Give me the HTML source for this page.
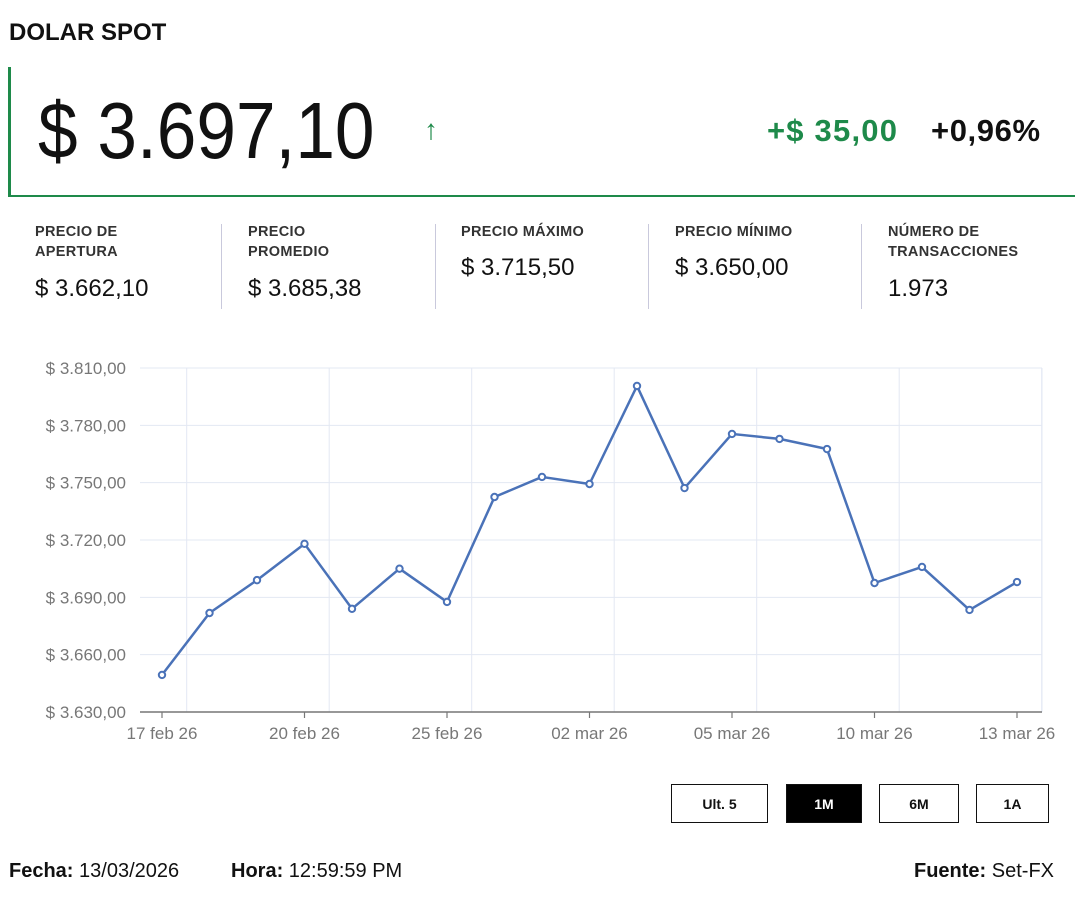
<!DOCTYPE html>
<html><head><meta charset="utf-8"><style>
body{margin:0;width:1080px;height:900px;background:#fff;font-family:"Liberation Sans",sans-serif;color:#111;position:relative;overflow:hidden}
.a{position:absolute;white-space:nowrap}
.lbl{font-size:14.5px;font-weight:bold;color:#333;line-height:20px;letter-spacing:0.3px}
.val{font-size:24px;color:#111}
.div{position:absolute;top:224px;width:1px;height:85px;background:#c9c9dc}
.btn{position:absolute;top:784px;height:39px;border:1.5px solid #111;box-sizing:border-box;font-size:14px;font-weight:bold;display:flex;align-items:center;justify-content:center}
</style></head><body>
<div class="a" style="left:9px;top:19px;font-size:24px;font-weight:bold">DOLAR SPOT</div>
<div class="a" style="left:8px;top:67px;width:3px;height:130px;background:#1e8a4a"></div>
<div class="a" style="left:8px;top:195px;width:1067px;height:2px;background:#1e8a4a"></div>
<div class="a" style="left:38px;top:86px;font-size:80px;line-height:90px;transform:scaleX(0.89);transform-origin:left top">$ 3.697,10</div>
<div class="a" style="left:424px;top:114px;font-size:28px;color:#1e8a4a;font-weight:bold">↑</div>
<div class="a" style="left:767px;top:113px;font-size:31px;font-weight:bold;color:#1e8a4a;letter-spacing:1.2px">+$ 35,00</div>
<div class="a" style="left:931px;top:113px;font-size:31px;font-weight:bold;color:#111;letter-spacing:0.6px">+0,96%</div>

<div class="a lbl" style="left:35px;top:222px">PRECIO DE<br>APERTURA</div>
<div class="a val" style="left:35px;top:275px">$ 3.662,10</div>
<div class="div" style="left:221px"></div>
<div class="a lbl" style="left:248px;top:222px">PRECIO<br>PROMEDIO</div>
<div class="a val" style="left:248px;top:275px">$ 3.685,38</div>
<div class="div" style="left:435px"></div>
<div class="a lbl" style="left:461px;top:222px">PRECIO MÁXIMO</div>
<div class="a val" style="left:461px;top:254px">$ 3.715,50</div>
<div class="div" style="left:648px"></div>
<div class="a lbl" style="left:675px;top:222px">PRECIO MÍNIMO</div>
<div class="a val" style="left:675px;top:254px">$ 3.650,00</div>
<div class="div" style="left:861px"></div>
<div class="a lbl" style="left:888px;top:222px">NÚMERO DE<br>TRANSACCIONES</div>
<div class="a val" style="left:888px;top:275px">1.973</div>

<svg class="a" style="left:0;top:0" width="1080" height="900" id="chart"></svg>

<div class="btn" style="left:671px;width:97px">Ult. 5</div>
<div class="btn" style="left:786px;width:76px;background:#000;color:#fff">1M</div>
<div class="btn" style="left:879px;width:80px">6M</div>
<div class="btn" style="left:976px;width:73px">1A</div>

<div class="a" style="left:9px;top:860px;font-size:20px"><b>Fecha:</b> 13/03/2026</div>
<div class="a" style="left:231px;top:860px;font-size:20px"><b>Hora:</b> 12:59:59 PM</div>
<div class="a" style="left:914px;top:860px;font-size:20px"><b>Fuente:</b> Set-FX</div>

<script>
const dates=["17 feb 26","18 feb 26","19 feb 26","20 feb 26","23 feb 26","24 feb 26","25 feb 26","26 feb 26","27 feb 26","02 mar 26","03 mar 26","04 mar 26","05 mar 26","06 mar 26","09 mar 26","10 mar 26","11 mar 26","12 mar 26","13 mar 26"];
const prices=[3649.4,3681.8,3699,3718,3684,3705,3687.6,3742.5,3753,3749.3,3800.6,3747.2,3775.5,3772.9,3767.6,3697.5,3705.9,3683.4,3698];
const yTicks=[3630,3660,3690,3720,3750,3780,3810];
const xTickEvery=3;

const svg=document.getElementById('chart');
const NS='http://www.w3.org/2000/svg';
const L=140,R=1042,T=368,B=712,yMin=3630,yMax=3810;
const x0=162,step=(1017-162)/(dates.length-1);
const xs=i=>x0+i*step;
const ys=v=>B-(v-yMin)/(yMax-yMin)*(B-T);
function mk(t,a){const e=document.createElementNS(NS,t);for(const k in a)e.setAttribute(k,a[k]);svg.appendChild(e);return e;}
const fmt=v=>'$ '+v.toLocaleString('de-DE',{minimumFractionDigits:2,maximumFractionDigits:2});
yTicks.forEach(v=>{
  const g=mk('line',{x1:L,x2:R,y1:ys(v),y2:ys(v),stroke:'#e3e8f3','stroke-width':1});
  
  
  const t=mk('text',{x:126,y:ys(v)+6,'text-anchor':'end','font-size':17,fill:'#777','font-family':'Liberation Sans, sans-serif'});
  t.textContent=fmt(v);
  
  
});
for(let i=0;i<dates.length;i+=xTickEvery){
  const gx=xs(i)+step*0.52;
  if(gx<R){const g=mk('line',{x1:gx,x2:gx,y1:T,y2:B,stroke:'#e3e8f3','stroke-width':1});
  
  }
}
const rb=mk('line',{x1:R,x2:R,y1:T,y2:B,stroke:'#e3e8f3'});


const ax=mk('line',{x1:L,x2:R,y1:B,y2:B,stroke:'#777','stroke-width':1.5});


for(let i=0;i<dates.length;i+=xTickEvery){
  const tk=mk('line',{x1:xs(i),x2:xs(i),y1:B,y2:B+6,stroke:'#777','stroke-width':1.2});
  
  
  const t=mk('text',{x:xs(i),y:B+27,'text-anchor':'middle','font-size':17,fill:'#777','font-family':'Liberation Sans, sans-serif'});
  t.textContent=dates[i];
  
  
}
const line=mk('polyline',{points:prices.map((v,i)=>xs(i)+','+ys(v)).join(' '),fill:'none',stroke:'#4a72b8','stroke-width':2.5,'stroke-linejoin':'round'});


prices.forEach((v,i)=>{
  const c=mk('circle',{cx:xs(i),cy:ys(v),r:3.2,fill:'#fff',stroke:'#4a72b8','stroke-width':2});
  
  
});
</script>
</body></html>
